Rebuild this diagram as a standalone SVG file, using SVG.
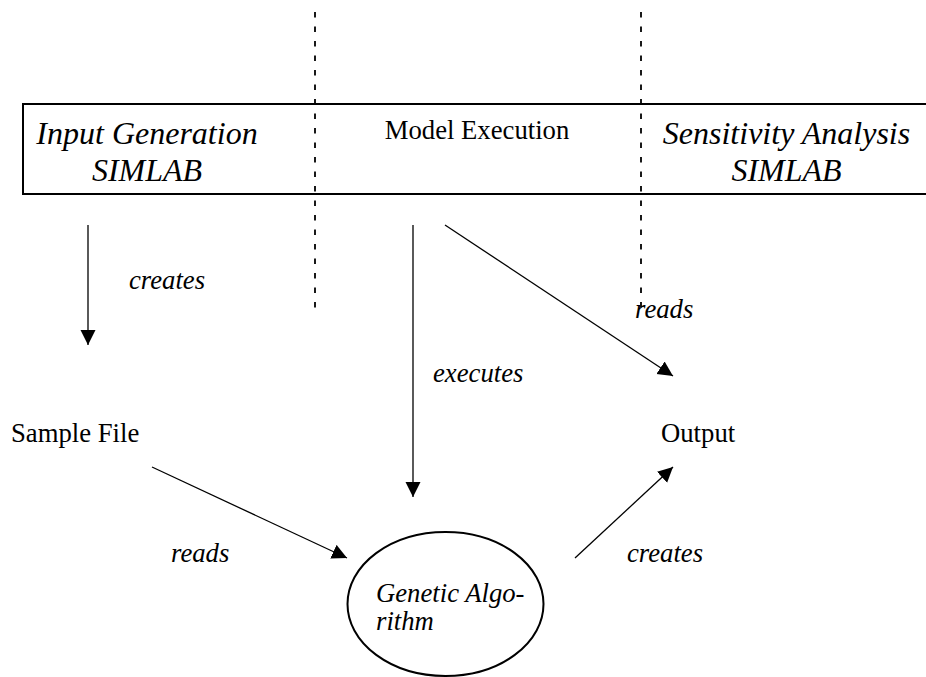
<svg xmlns="http://www.w3.org/2000/svg" width="926" height="677" viewBox="0 0 926 677">
<style>
text{font-family:'Liberation Serif','DejaVu Serif',serif;fill:#000}
.big{font-size:32px;font-style:italic}
.reg{font-size:26.7px}
.it{font-size:26.7px;font-style:italic}
.dash{stroke:#000;stroke-width:1.8;stroke-dasharray:5.5 9;fill:none}
.edge{stroke:#000;stroke-width:1.3;fill:none;marker-end:url(#ah)}
</style>
<defs>
<marker id="ah" markerUnits="userSpaceOnUse" markerWidth="16" markerHeight="16" viewBox="0 0 16 16" refX="15" refY="8" orient="auto">
<path d="M0,0.5 L15,8 L0,15.5 Z" fill="#000"/>
</marker>
</defs>
<rect width="926" height="677" fill="#fff"/>
<g id="swimlanes">
<line class="dash" x1="315" y1="12" x2="315" y2="315"/>
<line class="dash" x1="641" y1="12" x2="641" y2="308"/>
</g>
<g id="header">
<rect x="23" y="104" width="910" height="90" fill="none" stroke="#000" stroke-width="2"/>
<text class="big" x="147" y="144" text-anchor="middle">Input Generation</text>
<text class="big" x="147" y="181" text-anchor="middle">SIMLAB</text>
<text class="reg" x="477" y="139" text-anchor="middle">Model Execution</text>
<text class="big" x="786.5" y="144" text-anchor="middle">Sensitivity Analysis</text>
<text class="big" x="786.5" y="181" text-anchor="middle">SIMLAB</text>
</g>
<g id="sample-file">
<text class="reg" x="11" y="442">Sample File</text>
</g>
<g id="output">
<text class="reg" x="661" y="442">Output</text>
</g>
<g id="genetic-algorithm">
<ellipse cx="445.5" cy="604" rx="98" ry="72" fill="none" stroke="#000" stroke-width="2"/>
<text class="it" x="376" y="602">Genetic Algo-</text>
<text class="it" x="376" y="630">rithm</text>
</g>
<g id="connectors">
<line class="edge" x1="88" y1="225" x2="88" y2="345"/>
<line class="edge" x1="413" y1="225" x2="413" y2="497"/>
<line class="edge" x1="445" y1="225" x2="673" y2="376"/>
<line class="edge" x1="152" y1="467" x2="347" y2="558"/>
<line class="edge" x1="575" y1="558" x2="673" y2="467"/>
<text class="it" x="129" y="289">creates</text>
<text class="it" x="635" y="318">reads</text>
<text class="it" x="433" y="382">executes</text>
<text class="it" x="171" y="562">reads</text>
<text class="it" x="627" y="562">creates</text>
</g>
</svg>
